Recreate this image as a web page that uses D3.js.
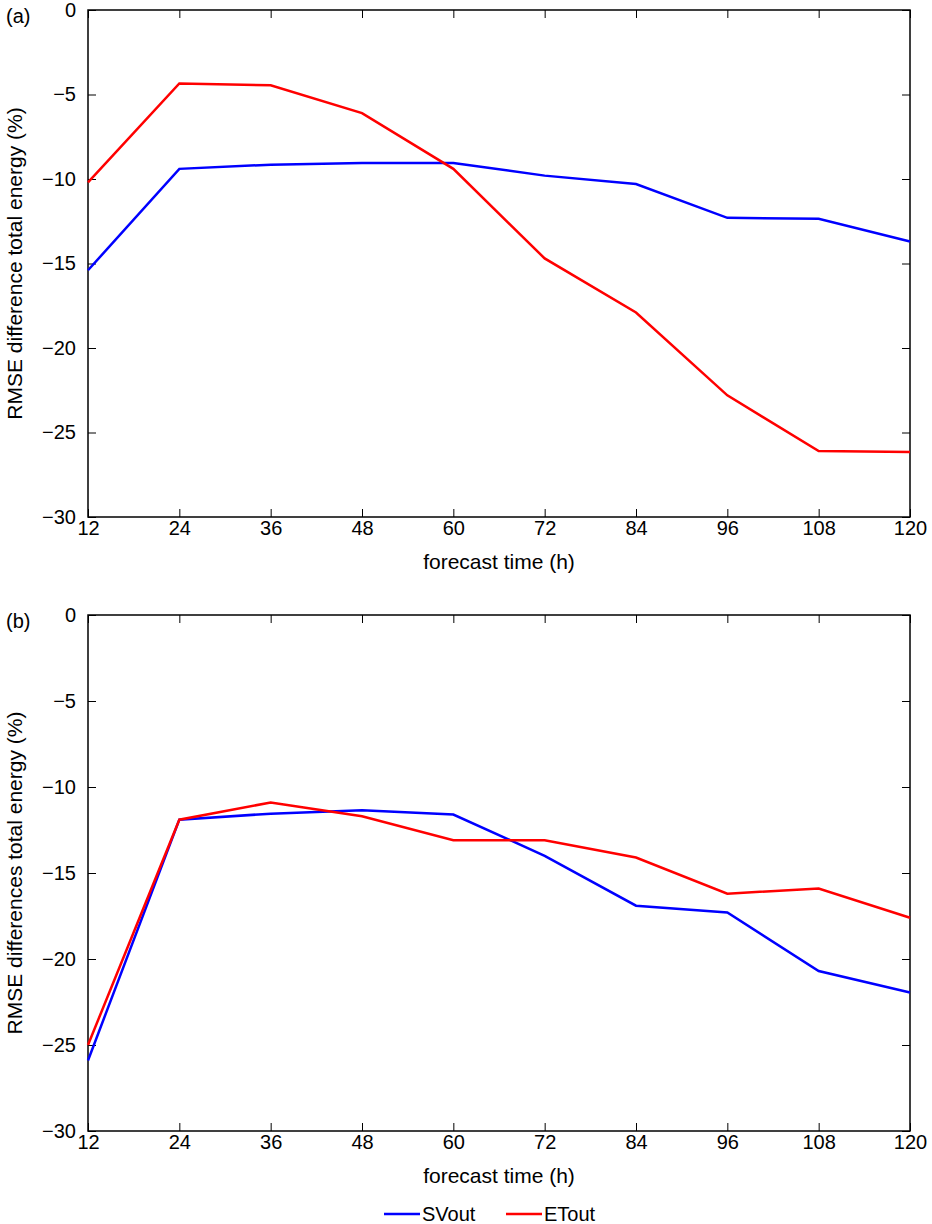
<!DOCTYPE html>
<html><head><meta charset="utf-8">
<script src="https://cdn.jsdelivr.net/npm/d3@7"></script>
<style>body{margin:0;background:#fff}text{font-family:"Liberation Sans",Arial,sans-serif}</style>
</head><body><svg id="c" width="932" height="1224"></svg>
<script>
const hours = [12, 24, 36, 48, 60, 72, 84, 96, 108, 120];
const yTicks = [0, -5, -10, -15, -20, -25, -30];
const svA = [-15.4, -9.4, -9.15, -9.05, -9.05, -9.8, -10.3, -12.3, -12.35, -13.7];
const etA = [-10.2, -4.35, -4.45, -6.1, -9.4, -14.7, -17.9, -22.8, -26.1, -26.15];
const svB = [-25.9, -11.9, -11.55, -11.35, -11.6, -14.0, -16.9, -17.3, -20.7, -21.95];
const etB = [-25.0, -11.9, -10.9, -11.7, -13.1, -13.1, -14.1, -16.2, -15.9, -17.6];
const seriesNames = ["SVout", "ETout"];
const colors = ["#0000ff", "#ff0000"];

const svg = d3.select("#c");
const L = 88, R = 910;

function panel(top, bottom, label, ylab, sv, et) {
  const x = d3.scaleLinear().domain([12, 120]).range([L, R]);
  const y = d3.scaleLinear().domain([-30, 0]).range([bottom, top]);
  const g = svg.append("g");
  const fs = "20px";
  const mk = (ax, tr) => {
    const a = g.append("g").attr("transform", tr).call(ax);
    a.select(".domain").remove();
    a.selectAll("line").attr("stroke", "#000");
    a.selectAll("text").style("font-size", fs).attr("fill", "#000");
    return a;
  };
  const fmt = d => d < 0 ? "\u2212" + Math.abs(d) : d;
  mk(d3.axisBottom(x).tickValues(hours).tickSize(-8).tickPadding(4), `translate(0,${bottom})`);
  mk(d3.axisTop(x).tickValues(hours).tickSize(-8).tickFormat(""), `translate(0,${top})`);
  mk(d3.axisLeft(y).tickValues(yTicks).tickSize(-8).tickPadding(12).tickFormat(fmt), `translate(${L},0)`);
  mk(d3.axisRight(y).tickValues(yTicks).tickSize(-8).tickFormat(""), `translate(${R},0)`);
  g.append("rect").attr("x", L).attr("y", top).attr("width", R - L).attr("height", bottom - top)
    .attr("fill", "none").attr("stroke", "#000").attr("stroke-width", 1.5);
  const line = d3.line().x((d, i) => x(hours[i])).y(d => y(d));
  [sv, et].forEach((s, i) => g.append("path").datum(s).attr("d", line)
    .attr("fill", "none").attr("stroke", colors[i]).attr("stroke-width", 2.5));
  g.append("text").attr("x", 6).attr("y", top + 13).style("font-size", fs).text(label);
  g.append("text").attr("x", (L + R) / 2).attr("y", bottom + 52).attr("text-anchor", "middle")
    .style("font-size", "21px").text("forecast time (h)");
  g.append("text").attr("transform", `translate(22,${(top + bottom) / 2}) rotate(-90)`)
    .attr("text-anchor", "middle").style("font-size", "21px").text(ylab);
}

panel(10, 517, "(a)", "RMSE difference total energy (%)", svA, etA);
panel(615, 1131, "(b)", "RMSE differences total energy (%)", svB, etB);

const lg = svg.append("g").attr("transform", "translate(384,1214)");
seriesNames.forEach((n, i) => {
  const gx = i * 122;
  lg.append("line").attr("x1", gx).attr("x2", gx + 36).attr("y1", 0).attr("y2", 0)
    .attr("stroke", colors[i]).attr("stroke-width", 2.5);
  lg.append("text").attr("x", gx + 38).attr("y", 0).attr("dy", "0.35em").style("font-size", "20px").text(n);
});
</script></body></html>
